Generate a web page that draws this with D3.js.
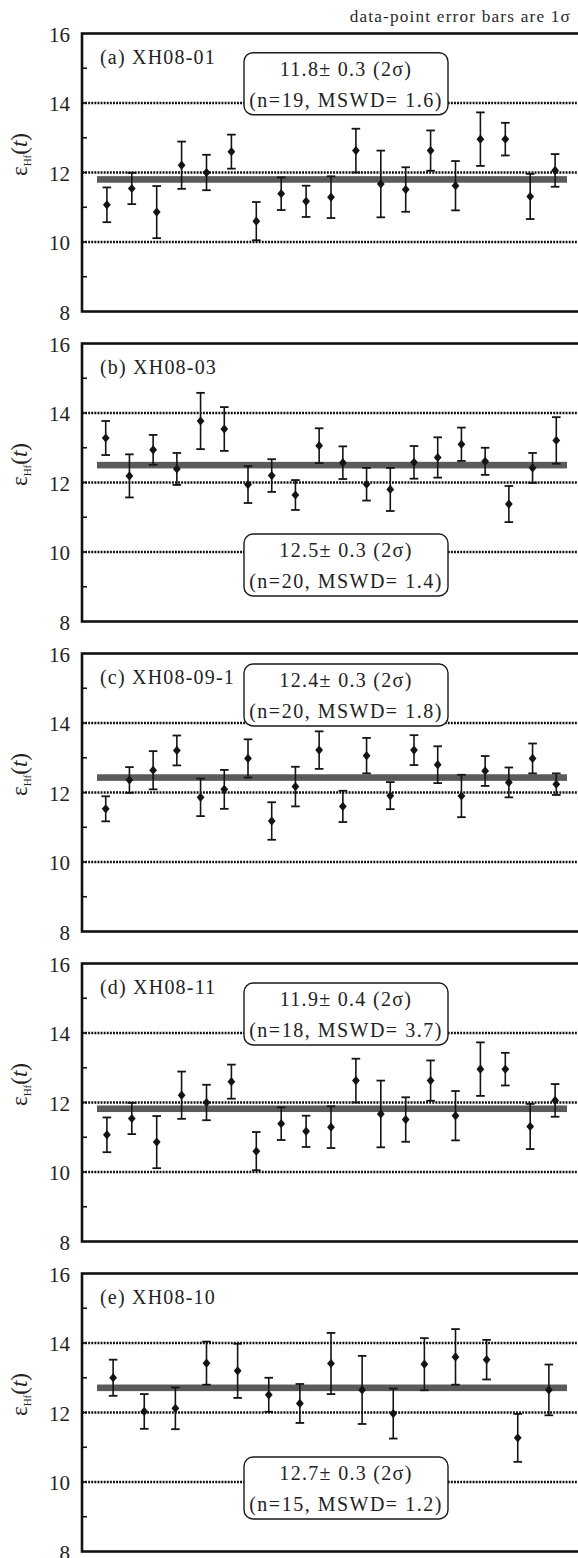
<!DOCTYPE html>
<html>
<head>
<meta charset="utf-8">
<script src="https://cdn.jsdelivr.net/npm/d3@7"></script>
<style>
  html, body { margin: 0; padding: 0; background: #fff; }
  svg { display: block; }
  text { font-family: "Liberation Serif", "Times New Roman", Times, serif; }
</style>
</head>
<body>
<svg id="chart" width="578" height="1558"></svg>
<script>
// ---------- data ----------
const yTickValues = [8, 10, 12, 14, 16];
const yMinorTicks = [9, 11, 13, 15];
const gridValues = [10, 12, 14];
const noteText = "data-point error bars are 1σ";

const panelLabels = ["(a) XH08-01", "(b) XH08-03", "(c) XH08-09-1", "(d) XH08-11", "(e) XH08-10"];
const meanTexts = ["11.8± 0.3 (2σ)", "12.5± 0.3 (2σ)", "12.4± 0.3 (2σ)", "11.9± 0.4 (2σ)", "12.7± 0.3 (2σ)"];
const statTexts = ["(n=19, MSWD= 1.6)", "(n=20, MSWD= 1.4)", "(n=20, MSWD= 1.8)", "(n=18, MSWD= 3.7)", "(n=15, MSWD= 1.2)"];
const weightedMeans = [11.80, 12.50, 12.43, 11.82, 12.71];

const valuesA = [11.07, 11.54, 10.86, 12.21, 12.00, 12.60, 10.60, 11.39, 11.17, 11.29, 12.63, 11.67, 11.51, 12.63, 11.62, 12.96, 12.96, 11.31, 12.06];
const errorsA = [0.50, 0.45, 0.75, 0.68, 0.51, 0.49, 0.55, 0.47, 0.45, 0.60, 0.63, 0.96, 0.64, 0.58, 0.71, 0.77, 0.47, 0.65, 0.47];

const valuesB = [13.28, 12.19, 12.94, 12.39, 13.77, 13.54, 11.94, 12.20, 11.64, 13.06, 12.57, 11.95, 11.80, 12.58, 12.72, 13.10, 12.61, 11.38, 12.42, 13.21];
const errorsB = [0.49, 0.62, 0.43, 0.46, 0.81, 0.63, 0.53, 0.47, 0.43, 0.50, 0.47, 0.47, 0.62, 0.47, 0.58, 0.48, 0.39, 0.52, 0.43, 0.67];

const valuesC = [11.53, 12.36, 12.64, 13.21, 11.86, 12.09, 12.98, 11.18, 12.17, 13.22, 11.60, 13.06, 11.91, 13.22, 12.80, 11.90, 12.62, 12.29, 12.98, 12.24];
const errorsC = [0.36, 0.37, 0.55, 0.43, 0.54, 0.56, 0.55, 0.54, 0.57, 0.54, 0.45, 0.51, 0.39, 0.43, 0.53, 0.61, 0.43, 0.43, 0.43, 0.31];

const valuesD = [11.07, 11.54, 10.86, 12.21, 12.00, 12.60, 10.60, 11.39, 11.17, 11.29, 12.63, 11.67, 11.51, 12.63, 11.62, 12.96, 12.96, 11.31, 12.06];
const errorsD = [0.50, 0.45, 0.75, 0.68, 0.51, 0.49, 0.55, 0.47, 0.45, 0.60, 0.63, 0.96, 0.64, 0.58, 0.71, 0.77, 0.47, 0.65, 0.47];

const valuesE = [13.00, 12.03, 12.12, 13.42, 13.20, 12.51, 12.26, 13.41, 12.65, 11.97, 13.39, 13.60, 13.52, 11.27, 12.65];
const errorsE = [0.52, 0.50, 0.60, 0.62, 0.78, 0.49, 0.56, 0.88, 0.98, 0.72, 0.75, 0.80, 0.57, 0.69, 0.73];

const seriesValues = [valuesA, valuesB, valuesC, valuesD, valuesE];
const seriesErrors = [errorsA, errorsB, errorsC, errorsD, errorsE];

// ---------- layout (not data) ----------
const plotLeft = 82, plotRight = 580, plotH = 278, firstTop = 33.5, panelStep = 310;
const boxTopOffsets = [19.2, 190.5, 10.5, 19.5, 183.5]; // box top relative to panel top
const serif = "Liberation Serif";
const ink = "#141414";

const svg = d3.select("#chart");

svg.append("text")
  .attr("x", 571).attr("y", 16)
  .attr("dy", "0.35em")
  .attr("text-anchor", "end")
  .style("font-family", serif)
  .attr("font-size", 17.2)
  .attr("letter-spacing", 1.2)
  .attr("fill", "#2a2a2a")
  .text(noteText);

seriesValues.forEach((vals, i) => {
  const errs = seriesErrors[i];
  const top = firstTop + i * panelStep;
  const n = vals.length;
  const x = d3.scaleLinear().domain([0, n + 1]).range([plotLeft, plotRight]);
  const y = d3.scaleLinear().domain([8, 16]).range([top + plotH, top]);
  const g = svg.append("g");

  // gridlines (dotted)
  g.selectAll("line.grid").data(gridValues).join("line")
    .attr("x1", plotLeft).attr("x2", plotRight)
    .attr("y1", d => y(d)).attr("y2", d => y(d))
    .attr("stroke", "#0c0c0c").attr("stroke-width", 2.4)
    .attr("stroke-dasharray", "1.9,1.2");

  // y axis labels through d3.axisLeft
  const axis = d3.axisLeft(y).tickValues(yTickValues).tickSize(0).tickPadding(12).tickFormat(d3.format("d"));
  const ag = g.append("g").attr("transform", `translate(${plotLeft},0)`).call(axis);
  ag.attr("font-family", null);
  ag.select(".domain").remove();
  ag.selectAll("text")
    .style("font-family", serif).attr("font-size", 21)
    .attr("fill", "#222").attr("dy", "0.36em");

  // inward ticks
  g.selectAll("line.minor").data(yMinorTicks.concat(gridValues)).join("line")
    .attr("x1", plotLeft).attr("x2", plotLeft + 5)
    .attr("y1", d => y(d)).attr("y2", d => y(d))
    .attr("stroke", ink).attr("stroke-width", 1.6);

  // weighted mean band
  const bandX0 = plotLeft + 15, bandX1 = plotRight - 13;
  g.append("rect")
    .attr("x", bandX0).attr("width", bandX1 - bandX0)
    .attr("y", y(weightedMeans[i] + 0.095))
    .attr("height", y(weightedMeans[i] - 0.095) - y(weightedMeans[i] + 0.095))
    .attr("fill", "#5a5a5a");

  // error bars + diamonds
  const pts = vals.map((v, k) => ({ v, e: errs[k], k: k + 1 }));
  const eb = g.selectAll("g.eb").data(pts).join("g");
  eb.append("line")
    .attr("x1", d => x(d.k)).attr("x2", d => x(d.k))
    .attr("y1", d => y(d.v + d.e)).attr("y2", d => y(d.v - d.e))
    .attr("stroke", ink).attr("stroke-width", 1.6);
  eb.append("line")
    .attr("x1", d => x(d.k) - 4.3).attr("x2", d => x(d.k) + 4.3)
    .attr("y1", d => y(d.v + d.e)).attr("y2", d => y(d.v + d.e))
    .attr("stroke", ink).attr("stroke-width", 1.8);
  eb.append("line")
    .attr("x1", d => x(d.k) - 4.3).attr("x2", d => x(d.k) + 4.3)
    .attr("y1", d => y(d.v - d.e)).attr("y2", d => y(d.v - d.e))
    .attr("stroke", ink).attr("stroke-width", 1.8);
  eb.append("path")
    .attr("d", d => {
      const cx = x(d.k), cy = y(d.v);
      return `M${cx},${cy - 4.6}L${cx + 3.9},${cy}L${cx},${cy + 4.6}L${cx - 3.9},${cy}Z`;
    })
    .attr("fill", ink);

  // frame
  g.append("rect")
    .attr("x", plotLeft).attr("y", top)
    .attr("width", plotRight - plotLeft).attr("height", plotH)
    .attr("fill", "none").attr("stroke", "#111").attr("stroke-width", 2.6);

  // panel label
  g.append("text")
    .attr("x", 100).attr("y", top + 23).attr("dy", "0.35em")
    .style("font-family", serif).attr("font-size", 20)
    .attr("letter-spacing", 1.2).attr("fill", "#222")
    .text(panelLabels[i]);

  // stats box
  const bTop = top + boxTopOffsets[i];
  g.append("rect")
    .attr("x", 244).attr("y", bTop).attr("width", 204).attr("height", 62)
    .attr("rx", 9).attr("ry", 9)
    .attr("fill", "#fff").attr("stroke", "#1a1a1a").attr("stroke-width", 1.4);
  g.append("text")
    .attr("x", 346).attr("y", bTop + 15.8).attr("dy", "0.35em")
    .attr("text-anchor", "middle")
    .style("font-family", serif).attr("font-size", 20)
    .attr("letter-spacing", 1.3).attr("fill", "#222")
    .text(meanTexts[i]);
  g.append("text")
    .attr("x", 346).attr("y", bTop + 47.3).attr("dy", "0.35em")
    .attr("text-anchor", "middle")
    .style("font-family", serif).attr("font-size", 20)
    .attr("letter-spacing", 1.5).attr("fill", "#222")
    .text(statTexts[i]);

  // y axis title
  const yl = g.append("text")
    .attr("transform", `translate(27,${top + 121}) rotate(-90)`)
    .attr("text-anchor", "middle")
    .style("font-family", serif).attr("font-size", 23).attr("fill", "#222");
  yl.append("tspan").text("ε");
  yl.append("tspan").attr("font-size", 11).attr("dy", 4).text("Hf");
  yl.append("tspan").attr("dy", -4).text("(");
  yl.append("tspan").attr("font-style", "italic").text("t");
  yl.append("tspan").text(")");
});
</script>
</body>
</html>
